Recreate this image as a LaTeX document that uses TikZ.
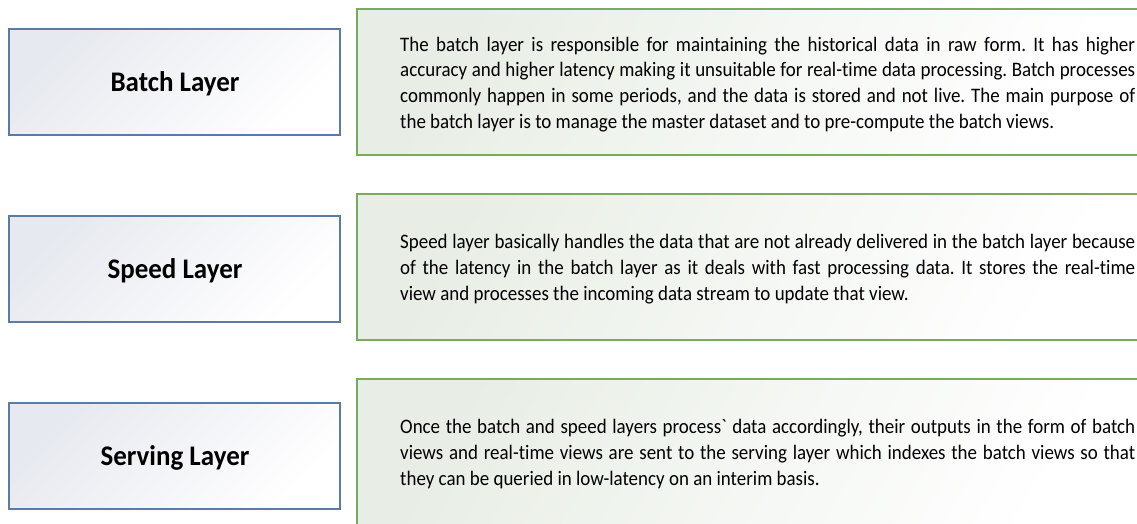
\documentclass[tikz,border=0pt]{standalone}
\usepackage{fontspec}
\setmainfont{Carlito}[Ligatures={TeXOff,NoCommon}]
% Calibri-like faces, slightly condensed
\newfontfamily\bodyface{Carlito}[Ligatures={TeXOff,NoCommon},FakeStretch=0.92]
\newfontfamily\labelface{Carlito}[Ligatures={TeXOff,NoCommon},FakeStretch=0.95]
\begin{document}
\begin{tikzpicture}[x=1pt,y=-1pt,
  layerbox/.style={draw=layerblue, line width=1.3pt, shading=axis,
    top color=layerfill, bottom color=white, shading angle=45},
  descbox/.style={draw=descgreen, line width=1.6pt, shading=axis,
    top color=descfill, bottom color=white, shading angle=60},
  layertext/.style={font=\labelface\bfseries\fontsize{28.4}{32}\selectfont, text=black},
  desctext/.style={font={\bodyface\fontsize{20.6}{25.8}\selectfont\frenchspacing
      \hyphenpenalty=10000\relax\exhyphenpenalty=10000\relax
      \spaceskip=4.3pt plus 4pt minus 1.6pt\relax}, text=black,
    text width=735pt, align=justify, inner sep=0pt, anchor=west}]
\definecolor{layerblue}{HTML}{5B7BA6}
\definecolor{layerfill}{HTML}{E6E9EF}
\definecolor{descgreen}{HTML}{7AAB5C}
\definecolor{descfill}{HTML}{E8EEE5}
\useasboundingbox (0,0) rectangle (1137,523);
\clip (0,0) rectangle (1137,523);

% left column: layer names
\shade[layerbox] (9,29) rectangle (340,135);
\shade[layerbox] (9,216) rectangle (340,322);
\shade[layerbox] (9,403) rectangle (340,509);
\node[layertext] (batch) at (175,84) {Batch Layer};
\node[layertext] (speed) at (175,271) {Speed Layer};
\node[layertext] (serving) at (175,458) {Serving Layer};

% right column: descriptions
\shade[descbox] (357,9) rectangle (1145,155);
\shade[descbox] (357,194) rectangle (1145,340);
\shade[descbox] (357,379) rectangle (1145,527);

\node[desctext] (batchdesc) at (400,84.5) {The batch layer is responsible for maintaining the historical data in raw form. It has higher\linebreak
accuracy and higher latency making it unsuitable for real-time data processing. Batch processes\linebreak
commonly happen in some periods, and the data is stored and not live. The main purpose of\linebreak
the batch layer is to manage the master dataset and to pre-compute the batch views.};

\node[desctext] (speeddesc) at (400,269) {Speed layer basically handles the data that are not already delivered in the batch layer because\linebreak
of the latency in the batch layer as it deals with fast processing data. It stores the real-time\linebreak
view and processes the incoming data stream to update that view.};

\node[desctext] (servingdesc) at (400,454) {Once the batch and speed layers process` data accordingly, their outputs in the form of batch\linebreak
views and real-time views are sent to the serving layer which indexes the batch views so that\linebreak
they can be queried in low-latency on an interim basis.};
\end{tikzpicture}
\end{document}
